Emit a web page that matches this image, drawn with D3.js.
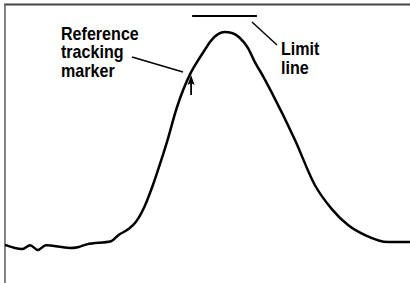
<!DOCTYPE html>
<html>
<head>
<meta charset="utf-8">
<script src="https://cdn.jsdelivr.net/npm/d3@7"></script>
<style>
html,body{margin:0;padding:0;background:#fff;}
svg{display:block;}
</style>
</head>
<body>
<script>
// Trace: x in relative frequency units (0-100), y in relative amplitude units (0-100)
const traceX = [0,4.2,6.2,8.1,10.1,16.0,18.0,20.2,26.2,27.9,30.4,32.3,34.6,36.5,38.3,40.0,42.4,45.7,47.7,49.4,50.6,52.6,54.3,56.0,58.0,60.0,61.7,63.7,65.9,71.6,76.5,80.7,84.7,88.9,94.6,100];
const traceY = [13.6,12.1,13.5,11.8,13.5,12.5,12.8,13.8,14.9,17.0,19.2,21.8,27.8,34.9,42.6,50.4,62.5,74.6,79.6,83.4,86.1,88.9,89.6,89.3,87.5,83.9,78.9,73.9,67.9,51.1,35.0,26.4,20.7,17.1,14.6,14.6];
// Limit line
const limitX = [46.2, 62.2];
const limitLevel = 95.4;
// Reference tracking marker position
const markerX = 45.7;
const markerY = [68.9, 74.6];
// Annotation labels
const refLabel = ["Reference", "tracking", "marker"];
const limitLabel = ["Limit", "line"];

const W = 410, H = 283;
const x = d3.scaleLinear().domain([0,100]).range([5,410]);
const y = d3.scaleLinear().domain([0,100]).range([283,3]);

const svg = d3.select("body").append("svg").attr("width",W).attr("height",H);

// frame (top and left)
svg.append("line").attr("x1",4).attr("x2",W).attr("y1",4.5).attr("y2",4.5)
  .attr("stroke","#444").attr("stroke-width",2);
svg.append("line").attr("x1",5).attr("x2",5).attr("y1",4).attr("y2",H)
  .attr("stroke","#666").attr("stroke-width",1.6);

const data = traceX.map((d,i)=>[d,traceY[i]]);
svg.append("path").datum(data)
  .attr("fill","none").attr("stroke","#000").attr("stroke-width",2.5)
  .attr("stroke-linejoin","round")
  .attr("d", d3.line().x(d=>x(d[0])).y(d=>y(d[1])).curve(d3.curveMonotoneX));

// limit line
svg.append("line").attr("x1",x(limitX[0])).attr("x2",x(limitX[1]))
  .attr("y1",y(limitLevel)).attr("y2",y(limitLevel))
  .attr("stroke","#000").attr("stroke-width",2);

// marker arrow
const mx = x(markerX) + 1;
const tipY = y(markerY[1]) + 1;
svg.append("line").attr("x1",mx).attr("x2",mx)
  .attr("y1",tipY+4).attr("y2",y(markerY[0]) + 5)
  .attr("stroke","#000").attr("stroke-width",1.8);
svg.append("path")
  .attr("d",`M${mx},${tipY} L${mx-3.5},${tipY+10} L${mx},${tipY+8} L${mx+3.5},${tipY+10} Z`)
  .attr("fill","#000");

// leader lines
svg.append("line").attr("x1",132).attr("y1",57).attr("x2",183).attr("y2",72)
  .attr("stroke","#000").attr("stroke-width",1.4);
svg.append("line").attr("x1",252).attr("y1",22).attr("x2",277).attr("y2",45)
  .attr("stroke","#000").attr("stroke-width",1.4);

function label(lines, x0, y0, dy){
  const g = svg.append("g").attr("transform",`translate(${x0},0) scale(0.92,1)`);
  lines.forEach((t,i)=>{
    g.append("text").attr("x",0).attr("y",y0+i*dy).text(t)
      .attr("font-family","Liberation Sans, Arial, sans-serif")
      .attr("font-weight","bold").attr("font-size",17.5).attr("fill","#000");
  });
}
label(refLabel, 61, 40, 18.5);
label(limitLabel, 281, 55, 19);
</script>
</body>
</html>
